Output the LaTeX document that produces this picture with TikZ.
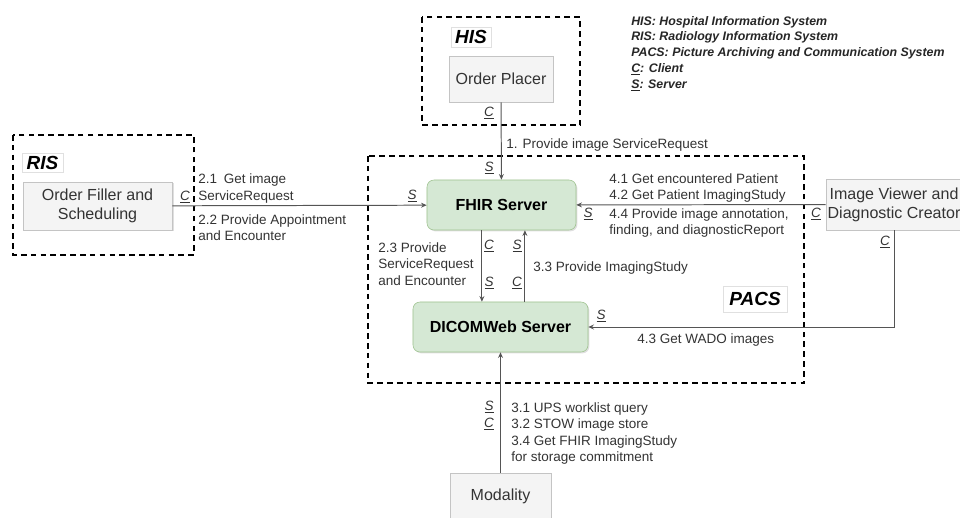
\documentclass[tikz,border=0pt]{standalone}
\usepackage{fontspec}
\setmainfont{Liberation Sans}
\usetikzlibrary{positioning,arrows.meta,shadows}

\definecolor{boxgray}{HTML}{F4F4F4}
\definecolor{boxline}{HTML}{C4C4C4}
\definecolor{srvfill}{HTML}{D5E8D4}
\definecolor{srvline}{HTML}{9DC28E}
\definecolor{txtgray}{HTML}{333333}
\definecolor{linegray}{HTML}{555555}

\newcommand{\roleC}{\underline{\textit{C}}}
\newcommand{\roleS}{\underline{\textit{S}}}

\tikzset{
  actor/.style={draw=boxline, fill=boxgray, text=txtgray, align=center, inner sep=0pt,
    font=\fontsize{11.4}{13.5}\selectfont,
    drop shadow={shadow xshift=1pt, shadow yshift=-1pt, opacity=0.25}},
  server/.style={draw=srvline, fill=srvfill, rounded corners=5pt, inner sep=0pt,
    font=\bfseries\fontsize{11.4}{13.5}\selectfont,
    drop shadow={shadow xshift=1pt, shadow yshift=-1pt, opacity=0.25}},
  group/.style={draw=black, line width=1.2pt, dash pattern=on 4pt off 3pt},
  tag/.style={draw=black!12, fill=white, inner sep=0pt,
    font=\bfseries\itshape\fontsize{13.5}{16}\selectfont},
  msg/.style={text=txtgray, align=left, anchor=west, inner sep=0pt,
    font=\fontsize{9.6}{11.8}\selectfont},
  role/.style={text=txtgray, inner sep=0pt, font=\fontsize{9.6}{11.8}\selectfont},
  arr/.style={draw=linegray, line width=0.7pt, -{Stealth[length=4pt,width=3.5pt]}}
}

\begin{document}
\begin{tikzpicture}[x=0.025cm, y=-0.025cm]
  \useasboundingbox (0,0) rectangle (960,518);

  % groups
  \draw[group] (422,17) rectangle (580,125);
  \draw[group] (13,135) rectangle (194,255);
  \draw[group] (368,156) rectangle (804,383);

  \node[tag, minimum width=1cm, minimum height=0.5cm] (his) at (471,37) {HIS};
  \node[tag, minimum width=1.03cm, minimum height=0.48cm] (ris) at (42.5,162.5) {RIS};
  \node[tag, minimum width=1.6cm, minimum height=0.65cm] (pacs) at (755,299) {PACS};

  % actors
  \node[actor, minimum width=2.6cm, minimum height=1.15cm] (placer) at (501,79) {Order Placer};
  \node[actor, minimum width=3.73cm, minimum height=1.2cm] (filler) at (97.5,206) {Order Filler and\\Scheduling};
  \node[server, minimum width=3.725cm, minimum height=1.25cm] (fhir) at (501.5,205) {FHIR Server};
  \node[server, minimum width=4.375cm, minimum height=1.25cm] (dicom) at (500.5,327) {DICOMWeb Server};
  \node[actor, minimum width=3.4cm, minimum height=1.275cm] (viewer) at (894,204.5) {Image Viewer and\\Diagnostic Creator};
  \node[actor, minimum width=2.525cm, minimum height=1.15cm] (modality) at (500.5,496) {Modality};

  % transactions
  \draw[arr] (placer) -- (fhir);
  \draw[arr] (filler) -- (fhir);
  \draw[arr] (viewer) -- (fhir);
  \draw[arr] (viewer.south) |- (dicom.east);
  \draw[arr] (modality) -- (dicom);
  \coordinate (down) at ([xshift=-0.49cm]fhir.south);
  \coordinate (up) at ([xshift=0.61cm]dicom.north);
  \draw[arr] (down) -- (down |- dicom.north);
  \draw[arr] (up) -- (up |- fhir.south);

  % roles
  \node[role] (c1) at (489,113) {\roleC};
  \node[role] (s1) at (489,168) {\roleS};
  \node[role] (c2) at (185,197) {\roleC};
  \node[role] (s2) at (412,196) {\roleS};
  \node[role] (s4) at (588,214) {\roleS};
  \node[role] (c4) at (816,214) {\roleC};
  \node[role] (c5) at (885,242) {\roleC};
  \node[role] (s5) at (601,316) {\roleS};
  \node[role] (c6) at (489,246) {\roleC};
  \node[role] (s6) at (517,246) {\roleS};
  \node[role] (s7) at (489,283) {\roleS};
  \node[role] (c7) at (517,283) {\roleC};
  \node[role] (s8) at (489,407) {\roleS};
  \node[role] (c8) at (489,424) {\roleC};

  % messages
  \node[msg] (m1) at (506,145) {1. Provide image ServiceRequest};
  \node[msg] (m21) at (198,188.5) {2.1\enspace Get image\\ServiceRequest};
  \node[msg] (m22) at (198,227.5) {2.2 Provide Appointment\\and Encounter};
  \node[msg] (m23) at (378,264) {2.3 Provide\\ServiceRequest\\and Encounter};
  \node[msg] (m33) at (533,268) {3.3 Provide ImagingStudy};
  \node[msg] (m41) at (609,188) {4.1 Get encountered Patient\\4.2 Get Patient ImagingStudy};
  \node[msg] (m44) at (609,223) {4.4 Provide image annotation,\\finding, and diagnosticReport};
  \node[msg] (m43) at (637,340) {4.3 Get WADO images};
  \node[msg] (m3) at (511,433.5) {3.1 UPS worklist query\\3.2 STOW image store\\3.4 Get FHIR ImagingStudy\\for storage commitment};

  % legend
  \node[anchor=west, align=left, inner sep=0pt, text=black!85,
    font=\bfseries\itshape\fontsize{8.8}{11.2}\selectfont] (legend) at (631,53.5)
    {HIS: Hospital Information System\\RIS: Radiology Information System\\PACS: Picture Archiving and Communication System\\\underline{C}: Client\\\underline{S}: Server};
\end{tikzpicture}
\end{document}
